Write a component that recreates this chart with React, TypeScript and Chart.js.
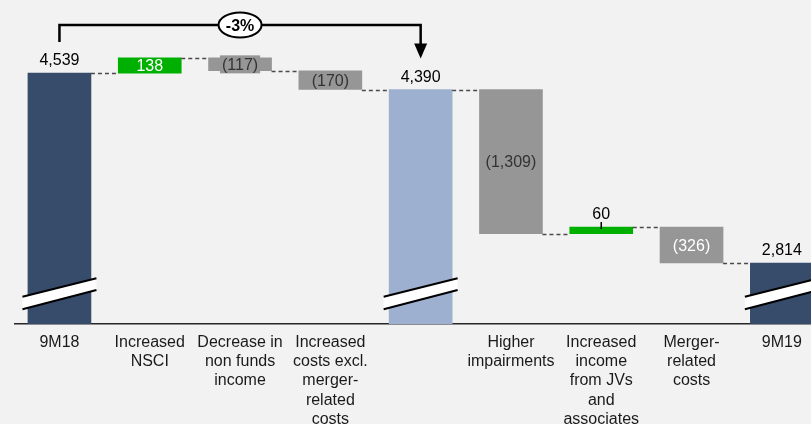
import React, { useEffect, useRef } from "react";
import { Chart, registerables } from "chart.js";

Chart.register(...registerables);

// Bridge categories (multi-line tick labels)
const categories: string[][] = [
  ["9M18"],
  ["Increased", "NSCI"],
  ["Decrease in", "non funds", "income"],
  ["Increased", "costs excl.", "merger-", "related", "costs"],
  [""],
  ["Higher", "impairments"],
  ["Increased", "income", "from JVs", "and", "associates"],
  ["Merger-", "related", "costs"],
  ["9M19"],
];

// Totals are absolute levels, the rest are changes
const stepValues = [4539, 138, -117, -170, 4390, -1309, 60, -326, 2814];
const isTotal = [true, false, false, false, true, false, false, false, true];
const valueLabels = ["4,539", "138", "(117)", "(170)", "4,390", "(1,309)", "60", "(326)", "2,814"];
const changeLabel = "-3%";

// Broken value axis
const axisFloor = 2260;
const axisCeil = 5203;

const NAVY = "#374b6b";
const LIGHT_BLUE = "#9db0cf";
const GREEN = "#00b000";
const GREY = "#969696";
const FONT = "'Liberation Sans', Arial, Helvetica, sans-serif";

const ranges: [number, number][] = [];
const ends: number[] = [];
{
  let running = 0;
  stepValues.forEach((v, i) => {
    if (isTotal[i]) {
      ranges.push([axisFloor, v]);
      running = v;
    } else {
      const next = running + v;
      ranges.push([Math.min(running, next), Math.max(running, next)]);
      running = next;
    }
    ends.push(running);
  });
}

const barColors = stepValues.map((v, i) => {
  if (isTotal[i]) return i === 4 ? LIGHT_BLUE : NAVY;
  return v >= 0 ? GREEN : GREY;
});

const labelInk = ["#000", "#fff", "#333", "#333", "#000", "#333", "#000", "#fff", "#000"];

const waterfallDecor = {
  id: "waterfallDecor",
  afterDatasetsDraw(chart: any) {
    const { ctx, chartArea } = chart;
    const yScale = chart.scales.y;
    const meta = chart.getDatasetMeta(0);
    const bars = meta.data.map((el: any) => el.getProps(["x", "y", "base", "width"], true));
    const n = bars.length;

    ctx.save();

    // dashed connectors between neighbouring bars
    ctx.setLineDash([4, 3]);
    ctx.strokeStyle = "#4a4a4a";
    ctx.lineWidth = 1.3;
    for (let i = 0; i < n - 1; i++) {
      const a = bars[i];
      const b = bars[i + 1];
      const yy = Math.round(yScale.getPixelForValue(ends[i])) + 0.5;
      ctx.beginPath();
      ctx.moveTo(a.x + a.width / 2, yy);
      ctx.lineTo(b.x - b.width / 2, yy);
      ctx.stroke();
    }
    ctx.setLineDash([]);

    // axis-break marks on the total bars
    const bottom = chartArea.bottom;
    bars.forEach((b: any, i: number) => {
      if (!isTotal[i]) return;
      const l = b.x - 37;
      const r = b.x + 37;
      ctx.beginPath();
      ctx.moveTo(l, bottom - 27.3);
      ctx.lineTo(r, bottom - 45.7);
      ctx.lineTo(r, bottom - 34);
      ctx.lineTo(l, bottom - 14.7);
      ctx.closePath();
      ctx.fillStyle = "#ffffff";
      ctx.fill();
      ctx.strokeStyle = "#000";
      ctx.lineWidth = 2;
      ctx.beginPath();
      ctx.moveTo(l, bottom - 27.3);
      ctx.lineTo(r, bottom - 45.7);
      ctx.moveTo(l, bottom - 14.7);
      ctx.lineTo(r, bottom - 34);
      ctx.stroke();
    });

    // value labels
    ctx.font = `16px ${FONT}`;
    ctx.textAlign = "center";
    ctx.textBaseline = "alphabetic";
    bars.forEach((b: any, i: number) => {
      const top = Math.min(b.y, b.base);
      const bot = Math.max(b.y, b.base);
      const h = bot - top;
      const mid = (top + bot) / 2;
      const text = valueLabels[i];
      if (isTotal[i]) {
        ctx.fillStyle = labelInk[i];
        ctx.fillText(text, b.x, top - 8);
      } else if (h < 10) {
        ctx.strokeStyle = "#000";
        ctx.lineWidth = 1.5;
        ctx.beginPath();
        ctx.moveTo(b.x, top - 5);
        ctx.lineTo(b.x, top + 2);
        ctx.stroke();
        ctx.fillStyle = labelInk[i];
        ctx.fillText(text, b.x, top - 8.5);
      } else if (h < 14.5) {
        const w = ctx.measureText(text).width + 4;
        ctx.fillStyle = barColors[i];
        ctx.fillRect(b.x - w / 2, mid - 9, w, 18);
        ctx.fillStyle = labelInk[i];
        ctx.fillText(text, b.x, mid + 5.8);
      } else {
        ctx.fillStyle = labelInk[i];
        ctx.fillText(text, b.x, mid + 5.8);
      }
    });

    // bracket from first total to second total with change bubble
    const x0 = bars[0].x;
    const x1 = bars[4].x;
    const yStart = Math.min(bars[0].y, bars[0].base) - 31;
    const yTip = Math.min(bars[4].y, bars[4].base) - 31;
    const yTop = 25;
    ctx.strokeStyle = "#000";
    ctx.fillStyle = "#000";
    ctx.lineWidth = 2.5;
    ctx.lineJoin = "miter";
    ctx.beginPath();
    ctx.moveTo(x0, yStart);
    ctx.lineTo(x0, yTop);
    ctx.lineTo(x1, yTop);
    ctx.lineTo(x1, yTip - 14);
    ctx.stroke();
    ctx.beginPath();
    ctx.moveTo(x1 - 6.5, yTip - 15);
    ctx.lineTo(x1 + 6.5, yTip - 15);
    ctx.lineTo(x1, yTip);
    ctx.closePath();
    ctx.fill();

    const cx = (x0 + x1) / 2;
    ctx.beginPath();
    ctx.ellipse(cx, yTop, 21.5, 12.5, 0, 0, Math.PI * 2);
    ctx.fillStyle = "#fff";
    ctx.fill();
    ctx.lineWidth = 2;
    ctx.stroke();
    ctx.fillStyle = "#000";
    ctx.font = `bold 16px ${FONT}`;
    ctx.fillText(changeLabel, cx, yTop + 5.8);

    ctx.restore();
  },
};

export default function App() {
  const canvasRef = useRef<HTMLCanvasElement | null>(null);

  useEffect(() => {
    const canvas = canvasRef.current;
    if (!canvas) return;
    const chart = new Chart(canvas, {
      type: "bar",
      data: {
        labels: categories,
        datasets: [
          {
            data: ranges as any,
            backgroundColor: barColors,
            borderWidth: 0,
            barThickness: 63,
          },
        ],
      },
      options: {
        animation: false,
        responsive: false,
        maintainAspectRatio: false,
        layout: { padding: { left: 14.3, right: 0, top: 0, bottom: 0 } },
        plugins: {
          legend: { display: false },
          tooltip: { enabled: false },
        },
        scales: {
          x: {
            type: "category",
            offset: true,
            grid: { display: false, drawTicks: false },
            border: { display: true, color: "#262626", width: 1.5 },
            ticks: {
              autoSkip: false,
              maxRotation: 0,
              padding: 9,
              color: "#1a1a1a",
              font: { family: FONT, size: 16, lineHeight: 1.2 },
            },
            afterFit: (scale: any) => {
              scale.height = 100;
            },
          },
          y: {
            display: false,
            min: axisFloor,
            max: axisCeil,
          },
        },
      },
      plugins: [waterfallDecor],
    });
    return () => chart.destroy();
  }, []);

  return (
    <div
      style={{
        position: "absolute",
        left: 0,
        top: 0,
        width: 811,
        height: 424,
        overflow: "hidden",
        background: "#f2f2f2",
      }}
    >
      <canvas ref={canvasRef} width={827} height={424} style={{ display: "block" }} />
    </div>
  );
}
